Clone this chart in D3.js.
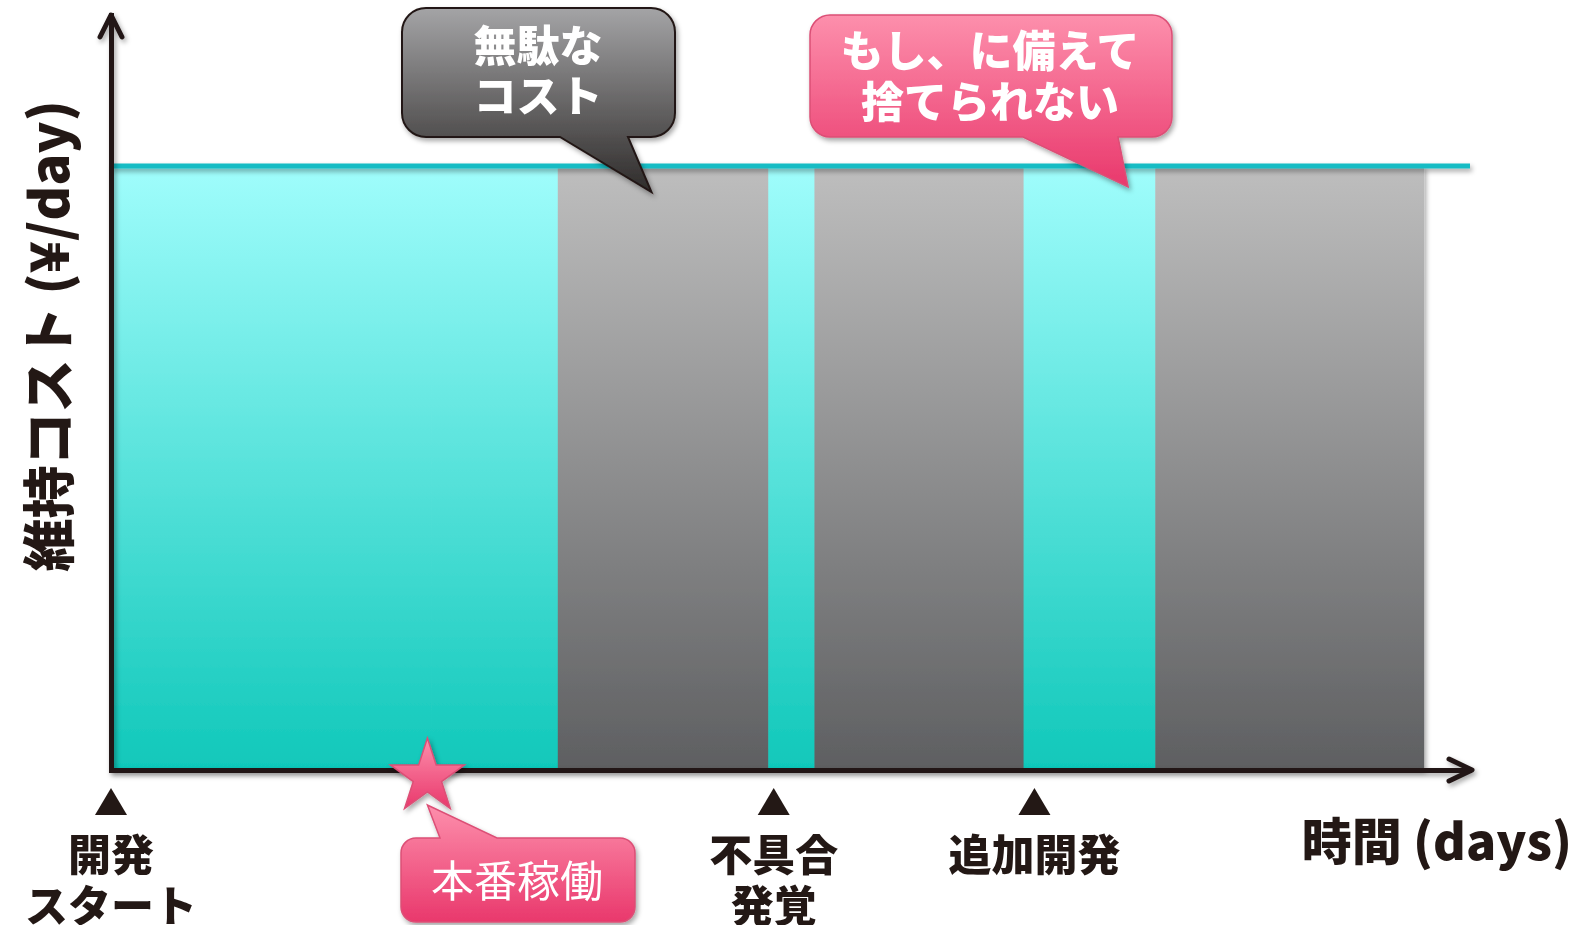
<!DOCTYPE html>
<html>
<head>
<meta charset="utf-8">
<script src="https://cdn.jsdelivr.net/npm/d3@7"></script>
<style>
body { margin: 0; background: #fff; }
svg { display: block; }
</style>
</head>
<body>
<script>
// time bands (days) and what the system is doing in each
var bandStart = [0, 23.6, 32.9, 48.4, 51.8, 67.2, 76.9]
var bandEnd   = [23.6, 32.9, 48.4, 51.8, 67.2, 76.9, 96.7]
var bandKind  = ["active", "active", "idle", "active", "idle", "active", "idle"]
var costLevel = 80

// events under the time axis
var markerDays   = [0, 48.8, 68.0]
var markerLabels = [["開発", "スタート"], ["不具合", "発覚"], ["追加開発"]]
var launchDay    = 23.3
var launchLabel  = "本番稼働"

var yTitle = "維持コスト (¥/day)"
var xTitle = "時間 (days)"
var wasteLines = ["無駄な", "コスト"]
var keepLines  = ["もし、に備えて", "捨てられない"]

var W = 1591, H = 925
var ink = "#231815"
var font = "'Noto Sans CJK JP', 'Noto Sans', sans-serif"

var x = d3.scaleLinear().domain([0, 100]).range([111, 1469])
var y = d3.scaleLinear().domain([0, 100]).range([770, 15])

var svg = d3.select("body").append("svg")
  .attr("width", W)
  .attr("height", H)

var defs = svg.append("defs")

function grad(id, top, bottom) {
  var g = defs.append("linearGradient").attr("id", id)
    .attr("x1", 0).attr("y1", 0).attr("x2", 0).attr("y2", 1)
  g.append("stop").attr("offset", "0%").attr("stop-color", top)
  g.append("stop").attr("offset", "100%").attr("stop-color", bottom)
}
grad("g-active", "#a0fdfc", "#10c8ba")
grad("g-idle", "#bebebe", "#5e5f61")
grad("g-dark", "#a4a4a6", "#2e2b2a")
grad("g-pink", "#fd8fac", "#e9386c")

// user-space region so thin lines keep their shadow
var f = defs.append("filter").attr("id", "shadow")
  .attr("filterUnits", "userSpaceOnUse")
  .attr("x", 0).attr("y", 0).attr("width", W).attr("height", H)
f.append("feDropShadow").attr("dx", 2).attr("dy", 3).attr("stdDeviation", 2.5)
  .attr("flood-color", "#000").attr("flood-opacity", 0.35)

// bands
svg.append("g").attr("filter", "url(#shadow)")
  .selectAll("rect")
  .data(bandStart).enter()
  .append("rect")
  .attr("x", function(d) { return x(d) })
  .attr("width", function(d, i) { return x(bandEnd[i]) - x(d) + (i < bandStart.length - 1 ? 0.5 : 0) })
  .attr("y", y(costLevel))
  .attr("height", y(0) - y(costLevel))
  .attr("fill", function(d, i) { return "url(#g-" + bandKind[i] + ")" })

// cost level line
svg.append("line")
  .attr("x1", x(0)).attr("x2", 1470)
  .attr("y1", y(costLevel)).attr("y2", y(costLevel))
  .attr("stroke", "#13bcc4")
  .attr("stroke-width", 5)
  .attr("filter", "url(#shadow)")

// axes
var axes = svg.append("g").attr("filter", "url(#shadow)")
axes.append("g")
  .attr("transform", "translate(0," + y(0) + ")")
  .call(d3.axisBottom(x).ticks(0).tickSizeOuter(0))
axes.append("g")
  .attr("transform", "translate(" + x(0) + ",0)")
  .call(d3.axisLeft(y).ticks(0).tickSizeOuter(0))
axes.selectAll(".domain")
  .attr("stroke", ink)
  .attr("stroke-width", 5)
  .attr("stroke-linecap", "square")

var xr = x.range()[1], yt = y.range()[1]
axes.append("path")
  .attr("d", "M" + (xr - 20) + "," + (y(0) - 11) + "L" + (xr + 3) + "," + y(0) + "L" + (xr - 20) + "," + (y(0) + 11))
axes.append("path")
  .attr("d", "M" + (x(0) - 11) + "," + (yt + 22) + "L" + x(0) + "," + yt + "L" + (x(0) + 11) + "," + (yt + 22))
axes.selectAll("path:not(.domain)")
  .attr("fill", "none").attr("stroke", ink).attr("stroke-width", 5)
  .attr("stroke-linecap", "round").attr("stroke-linejoin", "round")

// axis titles
svg.append("text")
  .attr("transform", "translate(46,336) rotate(-90)")
  .attr("text-anchor", "middle")
  .attr("dominant-baseline", "central")
  .attr("font-family", font).attr("font-weight", 900)
  .attr("font-size", 53).attr("fill", ink)
  .text(yTitle)

svg.append("text")
  .attr("x", 1572).attr("y", 838)
  .attr("text-anchor", "end")
  .attr("dominant-baseline", "central")
  .attr("font-family", font).attr("font-weight", 900)
  .attr("font-size", 50).attr("fill", ink)
  .text(xTitle)

// event markers
var marks = svg.selectAll(".marker")
  .data(markerDays).enter()
  .append("g").attr("class", "marker")
  .attr("transform", function(d) { return "translate(" + x(d) + ",0)" })

marks.append("path")
  .attr("d", "M-16,815L0,788L16,815Z")
  .attr("fill", ink)

marks.each(function(d, i) {
  d3.select(this).selectAll("text")
    .data(markerLabels[i]).enter()
    .append("text")
    .attr("x", 0)
    .attr("y", function(t, j) { return 852 + j * 51 })
    .attr("text-anchor", "middle")
    .attr("dominant-baseline", "central")
    .attr("font-family", font).attr("font-weight", 900)
    .attr("font-size", 43).attr("fill", ink)
    .text(function(t) { return t })
})

// callouts
function bubble(x0, y0, x1, y1, r, side, a, b, tx, ty) {
  var p = d3.path()
  p.moveTo(x0 + r, y0)
  if (side == "top") { p.lineTo(a, y0); p.lineTo(tx, ty); p.lineTo(b, y0) }
  p.lineTo(x1 - r, y0)
  p.arcTo(x1, y0, x1, y0 + r, r)
  p.lineTo(x1, y1 - r)
  p.arcTo(x1, y1, x1 - r, y1, r)
  if (side == "bottom") { p.lineTo(b, y1); p.lineTo(tx, ty); p.lineTo(a, y1) }
  p.lineTo(x0 + r, y1)
  p.arcTo(x0, y1, x0, y1 - r, r)
  p.lineTo(x0, y0 + r)
  p.arcTo(x0, y0, x0 + r, y0, r)
  p.closePath()
  return p.toString()
}

function lines(arr, cx, cy0, step, weight) {
  svg.append("g").selectAll("text")
    .data(arr).enter()
    .append("text")
    .attr("x", cx)
    .attr("y", function(t, j) { return cy0 + j * step })
    .attr("text-anchor", "middle")
    .attr("dominant-baseline", "central")
    .attr("font-family", font).attr("font-weight", weight)
    .attr("font-size", 43).attr("fill", "#fff")
    .text(function(t) { return t })
}

svg.append("path")
  .attr("d", bubble(402, 8, 675, 137, 24, "bottom", 560, 628, x(39.8), y(costLevel) + 26))
  .attr("fill", "url(#g-dark)")
  .attr("stroke", ink).attr("stroke-width", 2)
  .attr("filter", "url(#shadow)")
lines(wasteLines, 538, 43, 50, 900)

svg.append("path")
  .attr("d", bubble(810, 15, 1172, 137, 20, "bottom", 1023, 1118, x(74.9), y(costLevel) + 21))
  .attr("fill", "url(#g-pink)")
  .attr("stroke", "#dc4f76").attr("stroke-width", 1.5)
  .attr("filter", "url(#shadow)")
lines(keepLines, 990, 48, 51, 900)

// launch star (filter on an untransformed wrapper)
var star = d3.symbol().type(d3.symbolStar).size(1700)
svg.append("g").attr("filter", "url(#shadow)")
  .append("path")
  .attr("d", star())
  .attr("transform", "translate(" + x(launchDay) + ",777)")
  .attr("fill", "url(#g-pink)")
  .attr("stroke", "#dc4f76").attr("stroke-width", 1.5)

svg.append("path")
  .attr("d", bubble(401, 838, 635, 922, 15, "top", 440, 497, x(launchDay), 805))
  .attr("fill", "url(#g-pink)")
  .attr("stroke", "#dc4f76").attr("stroke-width", 1.5)
  .attr("filter", "url(#shadow)")
lines([launchLabel], 517, 878, 0, 400)
</script>
</body>
</html>
